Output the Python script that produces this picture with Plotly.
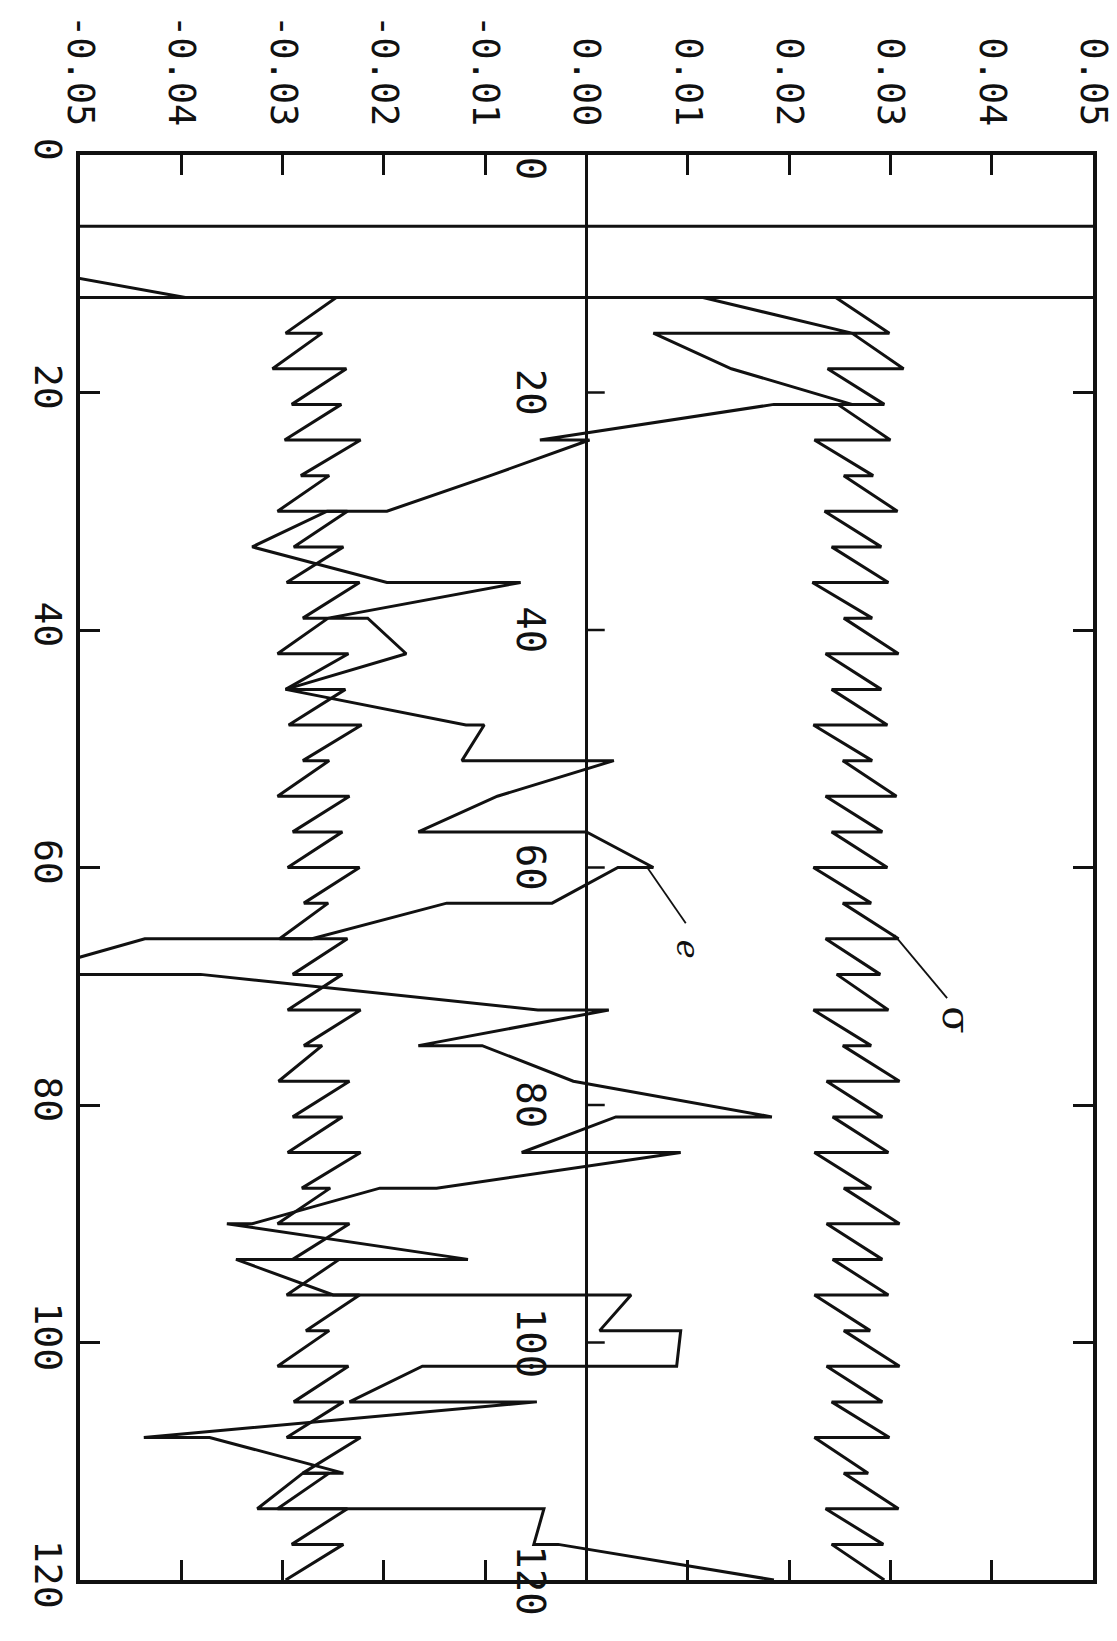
import plotly.graph_objects as go

# Element end nodes along the member (position index)
node_index = [12, 15, 18, 21, 24, 27, 30, 33, 36, 39, 42, 45, 48, 51, 54, 57, 60, 63,
              66, 69, 72, 75, 78, 81, 84, 87, 90, 93, 96, 99, 102, 105, 108, 111, 114,
              117, 120]

# sigma: value at the start and at the end of each element
sigma_start = [0.0246, 0.0262, 0.0238, 0.0248, 0.0225, 0.0254, 0.0235, 0.0242, 0.0223,
               0.0254, 0.0236, 0.0242, 0.0224, 0.0253, 0.0236, 0.0242, 0.0224, 0.0253,
               0.0236, 0.0247, 0.0224, 0.0253, 0.0237, 0.0243, 0.0225, 0.0254, 0.0237,
               0.0243, 0.0225, 0.0254, 0.0237, 0.0242, 0.0225, 0.0254, 0.0236, 0.0242]
sigma_end = [0.0299, 0.0313, 0.0294, 0.0300, 0.0283, 0.0307, 0.0291, 0.0298, 0.0282,
             0.0308, 0.0291, 0.0297, 0.0282, 0.0306, 0.0292, 0.0297, 0.0281, 0.0308,
             0.0290, 0.0298, 0.0281, 0.0309, 0.0292, 0.0298, 0.0281, 0.0309, 0.0292,
             0.0298, 0.0280, 0.0309, 0.0292, 0.0299, 0.0278, 0.0308, 0.0293, 0.0294]

# -sigma band
msigma_start = [-0.0247, -0.0261, -0.0237, -0.0242, -0.0223, -0.0254, -0.0236, -0.0240,
                -0.0224, -0.0255, -0.0235, -0.0238, -0.0222, -0.0254, -0.0234, -0.0241,
                -0.0224, -0.0255, -0.0236, -0.0241, -0.0223, -0.0261, -0.0234, -0.0241,
                -0.0223, -0.0253, -0.0234, -0.0244, -0.0224, -0.0254, -0.0235, -0.0240,
                -0.0223, -0.0254, -0.0236, -0.0240]
msigma_end = [-0.0297, -0.0310, -0.0291, -0.0298, -0.0282, -0.0305, -0.0289, -0.0296,
              -0.0280, -0.0305, -0.0297, -0.0294, -0.0280, -0.0305, -0.0290, -0.0295,
              -0.0279, -0.0303, -0.0290, -0.0295, -0.0279, -0.0304, -0.0290, -0.0295,
              -0.0281, -0.0305, -0.0290, -0.0296, -0.0277, -0.0305, -0.0289, -0.0296,
              -0.0280, -0.0305, -0.0291, -0.0297]

# e: value at the start and at the end of each element
e_start = [0.0115, 0.0066, 0.0143, 0.0185, 0.0003, -0.0095, -0.0256, -0.0330, -0.0065,
           -0.0216, -0.0178, -0.0297, -0.0101, 0.0027, -0.0088, 0.0000, 0.0031, -0.0138,
           -0.0436, -0.0381, 0.0022, -0.0103, -0.0013, 0.0029, 0.0093, -0.0204, -0.0355,
           -0.0346, 0.0044, 0.0093, -0.0162, -0.0049, -0.0372, -0.0280, -0.0042, -0.0028]
e_end = [0.0262, 0.0143, 0.0262, -0.0046, -0.0095, -0.0197, -0.0330, -0.0197, -0.0255,
         -0.0178, -0.0297, -0.0119, -0.0123, -0.0088, -0.0166, 0.0066, -0.0034, -0.0271,
         -0.0560, -0.0048, -0.0166, -0.0013, 0.0183, -0.0064, -0.0148, -0.0330, -0.0117,
         -0.0250, 0.0013, 0.0089, -0.0234, -0.0437, -0.0240, -0.0325, -0.0052, 0.0185]

# off-scale values ahead of the first element
e_lead_index = [6, 6, 12]
e_lead_value = [0.0800, -0.0785, -0.0396]
sigma_lead_index = [12]
sigma_lead_value = [-0.0700]
msigma_lead_index = [12]
msigma_lead_value = [0.0700]

value_ticks = [-0.05, -0.04, -0.03, -0.02, -0.01, 0.0, 0.01, 0.02, 0.03, 0.04, 0.05]
value_tick_text = ["-0.05", "-0.04", "-0.03", "-0.02", "-0.01", "0.00",
                   "0.01", "0.02", "0.03", "0.04", "0.05"]
index_ticks = [0, 20, 40, 60, 80, 100, 120]
index_tick_text = ["0", "20", "40", "60", "80", "100", "120"]

MONO = "DejaVu Sans Mono"
INK = "#111111"
EPS = 1e-7


def element_path(lead_idx, lead_val, start, end):
    idx = list(lead_idx)
    val = list(lead_val)
    for k in range(len(start)):
        idx += [node_index[k], node_index[k + 1]]
        val += [start[k], end[k]]
    return idx, val


fig = go.Figure()
for lead_i, lead_v, s, e in [
    (sigma_lead_index, sigma_lead_value, sigma_start, sigma_end),
    (msigma_lead_index, msigma_lead_value, msigma_start, msigma_end),
    (e_lead_index, e_lead_value, e_start, e_end),
]:
    idx, val = element_path(lead_i, lead_v, s, e)
    fig.add_trace(go.Scatter(x=val, y=idx, mode="lines",
                             line=dict(color=INK, width=3),
                             showlegend=False, hoverinfo="skip"))

shapes = []
# short ticks on the zero line
for t in index_ticks[1:-1]:
    shapes.append(dict(type="line", xref="x", yref="y", x0=0, x1=0.0018, y0=t, y1=t,
                       line=dict(color=INK, width=2.5)))
# leader lines for the curve labels
shapes.append(dict(type="line", xref="x", yref="y", x0=0.0304, y0=65.7, x1=0.0356, y1=71.0,
                   line=dict(color=INK, width=1.8)))
shapes.append(dict(type="line", xref="x", yref="y", x0=0.0060, y0=60.0, x1=0.0098, y1=64.7,
                   line=dict(color=INK, width=1.8)))

annotations = []
for t, txt in zip(index_ticks, index_tick_text):
    annotations.append(dict(x=-0.0055, y=t, xref="x", yref="y", text=txt,
                            showarrow=False, textangle=90,
                            xanchor="center", yanchor="top" if t == 0 else "middle",
                            font=dict(family=MONO, size=39, color=INK)))
annotations.append(dict(x=0.0366, y=72.8, xref="x", yref="y", text="σ",
                        showarrow=False, textangle=90,
                        font=dict(family="DejaVu Serif", size=40, color=INK)))
annotations.append(dict(x=0.0100, y=66.9, xref="x", yref="y", text="<i>e</i>",
                        showarrow=False, textangle=90,
                        font=dict(family="DejaVu Serif", size=32, color=INK)))

fig.update_layout(
    width=1117, height=1641,
    margin=dict(l=80, r=24, t=155, b=61, autoexpand=False),
    paper_bgcolor="white", plot_bgcolor="white",
    shapes=shapes, annotations=annotations,
    xaxis=dict(range=[-0.05 - EPS, 0.05 + EPS], side="top", tickmode="array",
               tickvals=value_ticks, ticktext=value_tick_text, tickangle=90,
               ticklabeloverflow="allow", automargin=False,
               ticks="inside", ticklen=20, tickwidth=2.5, tickcolor=INK,
               showline=True, linewidth=3.5, linecolor=INK, mirror="ticks",
               showgrid=False, zeroline=True, zerolinecolor=INK, zerolinewidth=2.5,
               ticklabelstandoff=12,
               tickfont=dict(family=MONO, size=37, color=INK)),
    yaxis=dict(range=[120, 0], tickmode="array",
               tickvals=index_ticks, ticktext=index_tick_text, tickangle=90,
               ticklabeloverflow="allow", automargin=False,
               ticks="inside", ticklen=20, tickwidth=2.5, tickcolor=INK,
               showline=True, linewidth=3.5, linecolor=INK, mirror="ticks",
               showgrid=False, zeroline=False,
               ticklabelstandoff=-4,
               tickfont=dict(family=MONO, size=38, color=INK)),
)

fig.write_html("out.html", config={"displayModeBar": False})
